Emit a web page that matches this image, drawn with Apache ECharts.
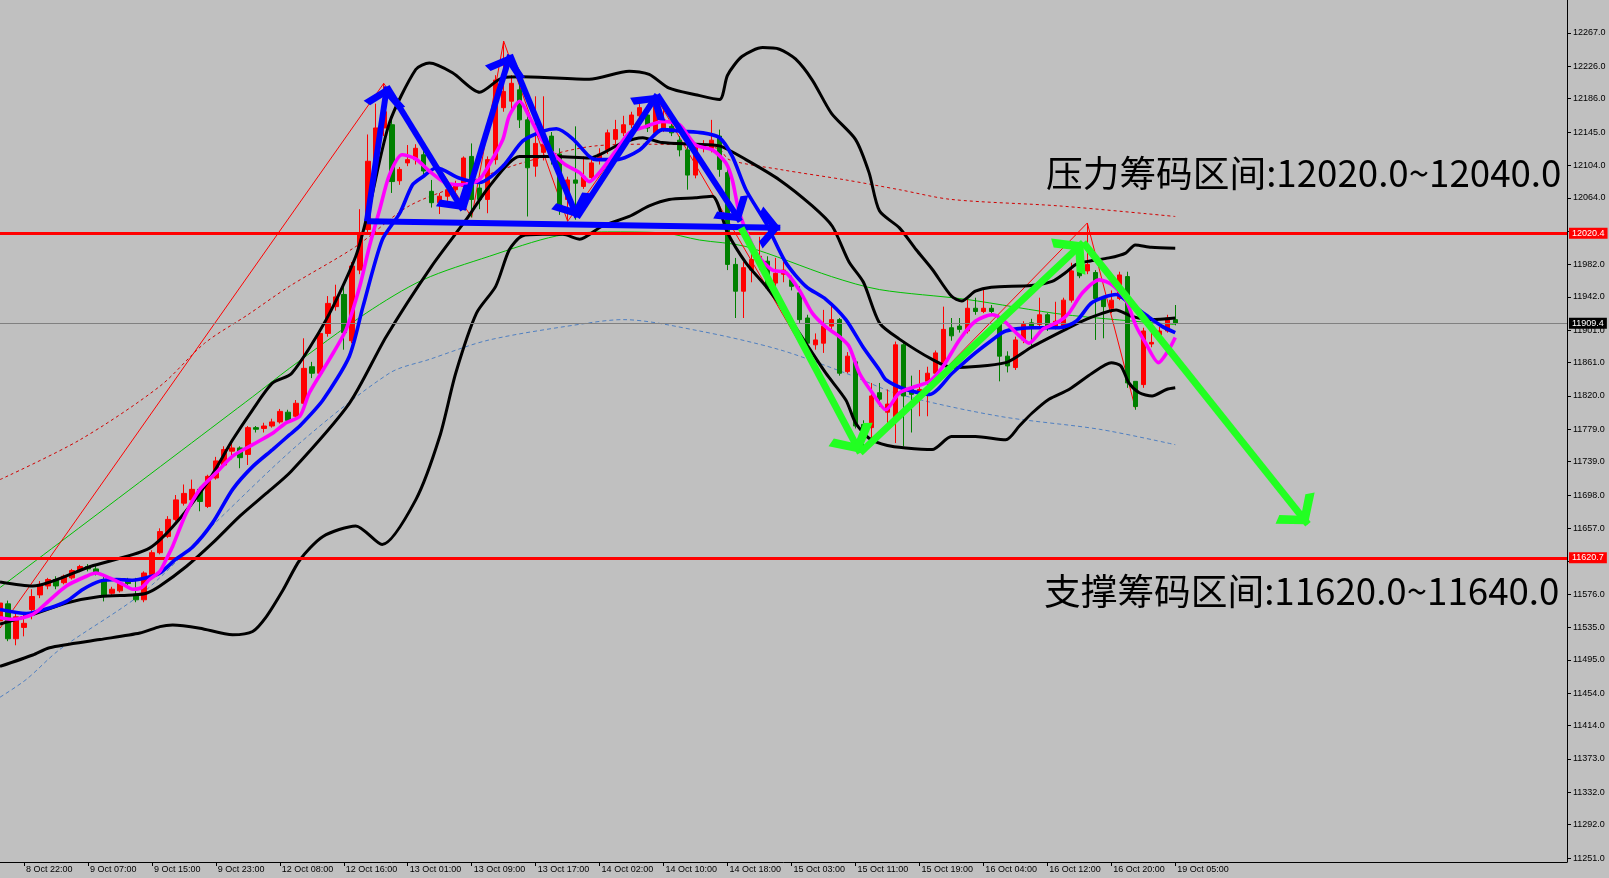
<!DOCTYPE html>
<html>
<head>
<meta charset="utf-8">
<script src="https://cdn.jsdelivr.net/npm/echarts/dist/echarts.min.js"></script>
<style>
html,body{margin:0;padding:0;background:#c0c0c0;}
#c{width:1609px;height:878px;}
</style>
</head>
<body>
<div id="c"></div>
<script>
// ---------------- DATA ----------------
const FIRST_BAR = -1; // index of the first candle (partly clipped at the left edge)

const opens = [
11543,
11564,11521,11535,11557,11575,11586,11594,11590,11596,11605,
11610,11607,11594,11577,11580,11594,11575,11569,11600,11627,
11647,11668,11688,11692,11705,11684,11719,11735,11752,11756,
11748,11781,11780,11783,11788,11800,11795,11811,11856,11848,
11897,11930,11945,11888,11975,12025,12100,12150,12154,12085,
12107,12111,12117,12072,12058,12066,12074,12078,12115,12076,
12062,12111,12175,12183,12197,12160,12103,12120,12140,12118,
12062,12086,12078,12089,12110,12123,12136,12144,12154,12165,
12166,12144,12150,12152,12135,12123,12092,12125,12125,12140,
12095,11982,11949,11975,11985,11986,11959,11970,11963,11947,
11916,11883,11885,11906,11914,11850,11862,11785,11781,11824,
11800,11790,11883,11828,11820,11838,11848,11861,11904,11906,
11900,11928,11924,11928,11915,11869,11855,11889,11910,11908,
11920,11906,11906,11938,11984,11974,11972,11940,11928,11940,
11967,11838,11834,11884,11895,11900,11914
];
const closes = [
11565,
11521,11548,11540,11573,11588,11594,11586,11598,11605,11610,
11607,11601,11573,11582,11589,11589,11569,11602,11627,11653,
11668,11692,11700,11705,11690,11721,11740,11754,11756,11744,
11781,11779,11783,11788,11801,11790,11811,11854,11848,11897,
11934,11942,11898,11980,12021,12109,12150,12170,12084,12099,
12111,12125,12097,12058,12066,12074,12080,12113,12062,12062,
12111,12209,12195,12205,12160,12101,12131,12130,12115,12050,
12086,12082,12090,12107,12118,12144,12148,12154,12166,12175,
12150,12177,12160,12144,12123,12092,12127,12129,12135,12099,
11982,11949,11978,11988,11992,11953,11971,11975,11955,11914,
11885,11889,11906,11914,11848,11869,11783,11779,11820,11816,
11810,11883,11820,11822,11828,11848,11873,11902,11894,11902,
11928,11924,11928,11924,11869,11857,11889,11908,11906,11920,
11906,11912,11938,11974,11968,11982,11940,11930,11938,11969,
11836,11807,11900,11886,11900,11916,11909.4
];
const highs = [
11570,
11568,11553,11553,11582,11592,11596,11598,11600,11607,11612,
11613,11612,11597,11585,11592,11596,11596,11604,11630,11657,
11672,11698,11711,11717,11708,11723,11745,11758,11766,11758,
11783,11783,11787,11792,11804,11803,11815,11891,11862,11900,
11943,11957,11957,11985,12050,12142,12180,12205,12165,12102,
12129,12130,12125,12086,12070,12078,12085,12115,12131,12090,
12115,12215,12257,12215,12205,12165,12189,12189,12145,12125,
12090,12152,12115,12112,12125,12148,12160,12165,12170,12185,
12172,12189,12175,12160,12140,12128,12130,12135,12160,12148,
12100,11990,11985,11995,12016,11992,11990,11985,11968,11955,
11920,11897,11926,11935,11916,11874,11866,11790,11836,11836,
11828,11887,11887,11845,11852,11856,11876,11930,11916,11916,
11939,11941,11953,11932,11918,11875,11893,11912,11915,11941,
11922,11936,11941,11984,11990,12033,11975,11942,11950,11973,
11973,11838,11904,11898,11905,11920,11932
];
const lows = [
11538,
11518,11513,11524,11545,11571,11582,11582,11588,11594,11603,
11604,11599,11567,11575,11578,11586,11566,11566,11598,11625,
11645,11666,11685,11690,11678,11682,11717,11733,11742,11731,
11735,11775,11775,11781,11786,11788,11793,11808,11842,11845,
11893,11925,11877,11885,11970,12020,12090,12140,12070,12080,
12103,12105,12090,12052,12044,12060,12064,12070,12040,12050,
12045,12105,12170,12170,12150,12041,12090,12110,12105,12043,
12035,12037,12075,12085,12105,12118,12130,12140,12150,12160,
12145,12140,12145,12140,12115,12074,12088,12120,12120,12090,
11975,11916,11916,11960,11975,11950,11955,11960,11950,11910,
11880,11877,11873,11900,11845,11848,11780,11750,11762,11807,
11780,11762,11758,11775,11795,11795,11845,11855,11888,11898,
11897,11920,11922,11920,11838,11849,11852,11885,11880,11905,
11900,11902,11902,11935,11965,11970,11889,11891,11922,11938,
11830,11803,11830,11880,11890,11898,11907
];

// Bollinger bands [bar, price]
const bbUpper = [[-1,11591],[3.1,11586],[10.3,11610],[17.4,11631],[20.6,11659],[24.9,11713],[28.1,11766],[30.6,11803],[33.1,11836],[35.5,11848],[39.8,11914],[43.5,11992],[45.2,12053],[47.7,12156],[51,12222],[52.7,12230],[55.6,12218],[59,12194],[61.9,12212],[64.3,12213],[72.7,12210],[77.7,12220],[80.2,12216],[82.7,12199],[86,12191],[89,12185],[90,12215],[91.8,12238],[94.4,12249],[96.5,12247],[98.5,12235],[100.6,12209],[103,12168],[106,12136],[107.7,12095],[109,12048],[111.5,12027],[113.6,12000],[115.6,11976],[118,11943],[119.3,11937],[121,11949],[123,11954],[128,11956],[130.6,11961],[132.3,11972],[133.6,11982],[135.2,11986],[137.7,11990],[139.8,11996],[141,12006],[143,12003],[146,12002]];
const bbMiddle = [[-1,11539],[3.1,11551],[7.3,11565],[11.5,11573],[15.6,11575],[17.3,11577],[19,11586],[22.3,11610],[25.6,11639],[29,11672],[32.3,11700],[35.4,11727],[42.7,11811],[47.3,11893],[53,11980],[57.3,12037],[60.2,12078],[64,12115],[68.6,12115],[72.7,12113],[76.9,12132],[79.4,12138],[81.8,12132],[86,12130],[89,12128],[92.3,12111],[96.5,12086],[100.6,12054],[103.1,12029],[105.2,11985],[107,11960],[109,11910],[111.5,11890],[115.6,11865],[118.1,11855],[124.8,11861],[128,11880],[132.3,11902],[135,11915],[138.6,11926],[140.6,11918],[143,11914],[146,11916]];
const bbLower = [[-1,11487],[3.1,11501],[5.2,11510],[11.5,11520],[16.5,11528],[19,11536],[20.6,11538],[24,11534],[28.1,11526],[30.6,11530],[32.3,11548],[34.4,11581],[36.5,11618],[39.4,11647],[43.5,11660],[46.8,11637],[51,11692],[54,11770],[56,11848],[58.6,11922],[61,11955],[62.7,12000],[64.3,12017],[66.9,12019],[69.4,12019],[71.5,12013],[74.3,12029],[77.7,12041],[80.2,12054],[82.7,12062],[86,12064],[88.1,12066],[90,12021],[92.3,11984],[94.8,11955],[97.3,11922],[99.8,11885],[102.3,11848],[104.8,11815],[106,11787],[107.7,11768],[110,11759],[112.3,11756],[115.6,11754],[118,11770],[121,11770],[124.8,11766],[126.5,11783],[128.1,11799],[130.2,11816],[132.7,11828],[135.6,11848],[138,11861],[139.2,11857],[140.2,11836],[141.5,11824],[143.1,11820],[144.9,11828],[146,11830]];

// fast (magenta) and slow (blue) moving averages
const maFast = [[-1,11547],[0.6,11545],[3.1,11551],[4.8,11565],[7.3,11586],[9.8,11598],[11,11602],[12.7,11596],[14.4,11588],[15.6,11582],[16.7,11584],[17.7,11594],[19,11604],[19.8,11619],[20.6,11635],[22.3,11676],[24,11705],[26,11725],[28.1,11746],[30.6,11760],[33.1,11774],[34.8,11787],[36.5,11795],[37.7,11824],[40.2,11865],[42.3,11902],[44,11955],[45.2,12004],[46.5,12050],[47.7,12092],[49.3,12117],[51,12112],[52.7,12097],[54.8,12082],[56.8,12080],[58.9,12086],[60.2,12105],[61.9,12136],[62.7,12165],[64,12183],[65.2,12164],[66.9,12134],[69.4,12107],[71.5,12095],[72.7,12084],[74.3,12099],[76.1,12123],[77.7,12144],[79.8,12152],[81.9,12158],[84,12154],[86,12129],[88.1,12123],[89.8,12107],[90.6,12086],[91.5,12045],[93.6,11996],[95.6,11975],[97.3,11972],[99,11950],[100.6,11922],[102.3,11905],[104,11893],[105.2,11881],[106.5,11848],[108.1,11824],[109.8,11803],[111.5,11824],[113.6,11832],[115.3,11838],[117,11857],[119,11889],[121,11912],[123.1,11920],[124.4,11914],[126.5,11894],[127.7,11885],[129.4,11902],[131.5,11912],[132.7,11922],[134.4,11947],[136.5,11963],[138.1,11957],[139.8,11939],[141.1,11906],[142.3,11885],[143.9,11861],[145.2,11877],[146,11892]];
const maSlow = [[-1,11557],[2.3,11552],[5.2,11559],[7.3,11567],[9.4,11582],[11.5,11592],[13.6,11594],[15.6,11593],[17.3,11596],[19,11602],[21,11619],[23.1,11634],[25.6,11664],[28.1,11705],[30.6,11733],[33.1,11754],[35.2,11772],[36.5,11783],[39.4,11815],[42.7,11869],[44.4,11930],[46.8,12012],[49,12045],[50.6,12080],[51.9,12090],[53.6,12101],[56.5,12088],[59,12083],[61.9,12103],[64.4,12134],[66.9,12146],[68.6,12149],[70.6,12137],[72.7,12115],[73.6,12111],[76.1,12111],[79,12123],[81.9,12148],[84.3,12146],[86.9,12144],[89,12138],[90.6,12115],[92.3,12074],[94.8,12033],[97.3,11984],[99.8,11955],[102.3,11939],[104.8,11914],[106.9,11881],[109,11852],[109.8,11840],[112.3,11828],[115.3,11822],[118.1,11848],[121,11873],[123.1,11889],[124.8,11900],[128.1,11904],[131.5,11904],[133.6,11912],[135.6,11935],[138.6,11945],[140.2,11935],[142.3,11920],[144.3,11906],[146,11898]];

// long moving averages (thin lines)
const maRedDotted = [[-1,11717],[9,11766],[19,11832],[24.6,11885],[30,11920],[35.2,11955],[43.5,12004],[50,12053],[56.7,12080],[64.3,12107],[72.7,12127],[80,12130],[88.8,12125],[90.2,12111],[96.5,12099],[104.8,12086],[111.5,12074],[118,12062],[131.5,12054],[146,12041]];
const maGreen = [[-1,11584],[30.6,11819],[35.2,11854],[44.8,11922],[51.9,11963],[60.2,11992],[68.6,12017],[75,12022],[81.8,12021],[86.5,12012],[92.3,12004],[103,11967],[109,11951],[119.8,11939],[132.3,11920],[146,11908]];
const maBlueDashed = [[-1,11449],[2.3,11471],[6.5,11508],[16.9,11578],[25,11655],[36.5,11762],[47.7,11848],[52.7,11865],[60.2,11889],[72.7,11910],[76.9,11914],[86.5,11900],[96.5,11877],[104.8,11848],[111.5,11822],[124,11795],[136.5,11779],[146,11760]];

// zigzag pivots
const zigzag = [[-1,11534],[47,12205],[58,12040],[62,12257],[70,12035],[81,12189],[107,11750],[135,12033],[141,11805]];

// horizontal levels
const resistanceLevel = 12020.4;
const supportLevel = 11620.7;
const lastPrice = 11909.4;

// hand-drawn arrows [from, to] in (bar, price)
const blueArrows = [
  [[44.9,12035],[47.4,12201]],
  [[47.4,12201],[56.9,12049]],
  [[56.9,12049],[62.8,12240]],
  [[62.8,12240],[71.2,12040]],
  [[71.2,12040],[81.2,12191]],
  [[81.2,12191],[91.6,12035]],
  [[44.9,12035],[96.6,12027]]
];
const greenArrows = [
  [[91.7,12027],[106.6,11750]],
  [[106.6,11750],[134.5,12009]],
  [[134.5,12009],[162.6,11662]]
];

// axis ticks
const priceTicks = [11251,11292,11332,11373,11414,11454,11495,11535,11576,11617,11657,11698,11739,11779,11820,11861,11901,11942,11982,12023,12064,12104,12145,12186,12226,12267];
const timeTickBars = [2,10,18,26,34,42,50,58,66,74,82,90,98,106,114,122,130,138,146];
const timeTickLabels = ["8 Oct 22:00","9 Oct 07:00","9 Oct 15:00","9 Oct 23:00","12 Oct 08:00","12 Oct 16:00","13 Oct 01:00","13 Oct 09:00","13 Oct 17:00","14 Oct 02:00","14 Oct 10:00","14 Oct 18:00","15 Oct 03:00","15 Oct 11:00","15 Oct 19:00","16 Oct 04:00","16 Oct 12:00","16 Oct 20:00","19 Oct 05:00"];

const resistText = "压力筹码区间:12020.0~12040.0";
const supportText = "支撑筹码区间:11620.0~11640.0";

// ---------------- BUILD ----------------
const candleData = opens.map((o, i) => [FIRST_BAR + i, o, closes[i], lows[i], highs[i]]);
const FONT = 'Liberation Sans';
const chevron = 'path://M0,-23 M0,0 L15,19 L10,23 L0,10 L-10,23 L-15,19 Z M0,23';

function thick(name, data, color, width, z) {
  return {name, type:'line', data, showSymbol:false, smooth:0.25, z,
    lineStyle:{color, width}, silent:true, animation:false};
}
function thin(name, data, color, type, z) {
  return {name, type:'line', data, showSymbol:false, smooth:0.3, z,
    lineStyle:{color, width:1, type}, silent:true, animation:false};
}
function levelLabel(text, bg) {
  return {show:true, position:'end', formatter:text, color:'#fff', backgroundColor:bg,
    padding:[1,3,1,3], fontSize:9, fontFamily:FONT, distance:2};
}

const chart = echarts.init(document.getElementById('c'));
chart.setOption({
  backgroundColor:'#c0c0c0',
  animation:false,
  grid:{left:0, right:42, top:0, bottom:16},
  xAxis:{
    type:'value', min:-1, max:195,
    axisLine:{show:true, onZero:false, lineStyle:{color:'#000', width:1}},
    axisTick:{show:true, customValues:timeTickBars, length:4, lineStyle:{color:'#000'}},
    axisLabel:{customValues:timeTickBars, align:'left', margin:3, fontSize:9, fontFamily:FONT, color:'#000',
      padding:[0,0,0,2],
      formatter:(v) => { const k = timeTickBars.indexOf(Math.round(v)); return k >= 0 ? timeTickLabels[k] : ''; }},
    splitLine:{show:false}
  },
  yAxis:{
    type:'value', position:'right', min:11246.1, max:12307.6,
    axisLine:{show:true, onZero:false, lineStyle:{color:'#000', width:1}},
    axisTick:{show:true, customValues:priceTicks, length:4, lineStyle:{color:'#000'}},
    axisLabel:{customValues:priceTicks, margin:6, fontSize:9, fontFamily:FONT, color:'#000',
      formatter:(v) => v.toFixed(1)},
    splitLine:{show:false}
  },
  series:[
    thin('MA red', maRedDotted, '#d00000', [3,3], 1),
    thin('MA green', maGreen, '#00c000', 'solid', 1),
    thin('MA blue dashed', maBlueDashed, '#4f7fc0', [4,3], 1),
    {name:'zigzag', type:'line', data:zigzag, showSymbol:false, z:2, silent:true,
      lineStyle:{color:'#ff0000', width:1}},
    {name:'price', type:'candlestick', data:candleData, barWidth:5, z:3, silent:true, clip:true,
      itemStyle:{color:'#ff0000', color0:'#008000', borderColor:'#ff0000', borderColor0:'#008000', borderWidth:1}},
    thick('BB upper', bbUpper, '#000000', 3, 4),
    thick('BB middle', bbMiddle, '#000000', 3, 4),
    thick('BB lower', bbLower, '#000000', 3, 4),
    thick('MA slow', maSlow, '#0000ff', 3.6, 5),
    thick('MA fast', maFast, '#ff00ff', 3.6, 5),
    {name:'levels', type:'line', data:[], z:6, silent:true,
      markLine:{symbol:['none','none'], silent:true, animation:false,
        data:[
          {yAxis:lastPrice, lineStyle:{color:'#808080', width:1, type:'solid'}, label:levelLabel(String(lastPrice), '#000')},
          {yAxis:resistanceLevel, lineStyle:{color:'#ff0000', width:3, type:'solid'}, label:levelLabel(String(resistanceLevel), '#ff0000')},
          {yAxis:supportLevel, lineStyle:{color:'#ff0000', width:3, type:'solid'}, label:levelLabel(String(supportLevel), '#ff0000')}
        ]}},
    {name:'blue arrows', type:'lines', coordinateSystem:'cartesian2d', z:8, silent:true,
      data:blueArrows.map(c => ({coords:c})),
      symbol:['none', chevron], symbolSize:[28,42],
      lineStyle:{color:'#0000ff', width:6, opacity:1, curveness:0}},
    {name:'green arrows', type:'lines', coordinateSystem:'cartesian2d', z:9, silent:true,
      data:greenArrows.map(c => ({coords:c})),
      symbol:['none', chevron], symbolSize:[34,50],
      lineStyle:{color:'#22ff22', width:7, opacity:1, curveness:0}}
  ],
  graphic:[
    {type:'text', left:1046, top:155, z:100, silent:true,
      style:{text:resistText, fontSize:36.7, fontFamily:'Noto Sans CJK SC', fill:'#000'}},
    {type:'text', left:1044, top:573, z:100, silent:true,
      style:{text:supportText, fontSize:36.7, fontFamily:'Noto Sans CJK SC', fill:'#000'}}
  ]
});
</script>
</body>
</html>
